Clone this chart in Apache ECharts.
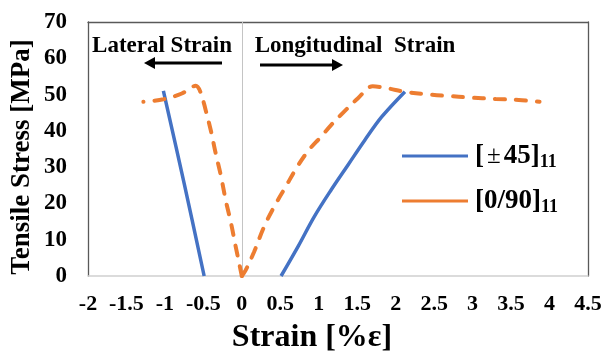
<!DOCTYPE html>
<html>
<head>
<meta charset="utf-8">
<title>Tensile stress vs strain</title>
<script src="https://cdn.jsdelivr.net/npm/echarts@6/dist/echarts.min.js"></script>
<style>
  html, body { margin: 0; padding: 0; background: #fff; }
  #chart { width: 606px; height: 356px; }
</style>
</head>
<body>
<div id="chart"></div>
<script>
// Data (strain in %, stress in MPa), in loading order
const blueLatStrain = [-0.49, -0.75, -1.02]
const blueLatStress = [0, 25.5, 51.0]
const blueLongStrain = [0.51, 0.73, 0.94, 1.16, 1.38, 1.60, 1.82, 2.12]
const blueLongStress = [0, 8.1, 16.3, 23.7, 30.6, 37.5, 43.9, 50.8]

const orangeLatStrain = [0, -0.08, -0.14, -0.21, -0.27, -0.34, -0.40, -0.47, -0.54, -0.60, -0.78, -1.02, -1.28]
const orangeLatStress = [0, 8.1, 14.5, 20.9, 27.4, 33.8, 39.8, 45.7, 50.8, 52.4, 50.3, 48.7, 48.0]
const orangeLongStrain = [0, 0.05, 0.16, 0.29, 0.42, 0.57, 0.72, 0.87, 1.03, 1.16, 1.33, 1.51, 1.70, 1.90, 2.11, 2.38, 2.69, 2.95, 3.30, 3.60, 3.87]
const orangeLongStress = [0, 1.6, 6.7, 13.6, 19.1, 24.6, 30.1, 34.7, 38.4, 41.6, 45.3, 49.0, 52.3, 51.7, 50.8, 50.1, 49.6, 49.2, 48.8, 48.5, 48.0]

const seriesNames = ['[±45]11', '[0/90]11']
const strainMin = -2
const strainMax = 4.5
const strainStep = 0.5
const stressMin = 0
const stressMax = 70
const stressStep = 10

const BLUE = '#4472C4'
const ORANGE = '#ED7D31'
const SERIF = '"Liberation Serif", "Times New Roman", serif'

/** zip two arrays into [x, y] pairs */
function pairs(xs, ys) {
  return xs.map((x, i) => [x, ys[i]])
}

function blueSeries(data) {
  return {
    name: seriesNames[0], type: 'line', data, showSymbol: false, symbol: 'none',
    smooth: 0.35, lineStyle: { color: BLUE, width: 3.5 }, itemStyle: { color: BLUE }, z: 3
  }
}

function orangeSeries(data) {
  return {
    name: seriesNames[1], type: 'line', data, showSymbol: false, symbol: 'none',
    smooth: 0.35, lineStyle: { color: ORANGE, width: 4, type: [10, 11], cap: 'round' },
    itemStyle: { color: ORANGE }, z: 4
  }
}

const chart = echarts.init(document.getElementById('chart'), null, { renderer: 'canvas' })

const axisLabelStyle = { color: '#000', fontFamily: SERIF, fontWeight: 'bold' }

chart.setOption({
  animation: false,
  grid: { left: 88, right: 18, top: 22, bottom: 80 },
  xAxis: [
    {
      type: 'value', min: strainMin, max: strainMax, interval: strainStep,
      axisLine: { onZero: false, lineStyle: { color: '#d0d0d0', width: 1.5 } },
      axisTick: { show: false }, splitLine: { show: false },
      axisLabel: { ...axisLabelStyle, fontSize: 22, margin: 17 }
    },
    {
      type: 'value', position: 'top', min: strainMin, max: strainMax,
      axisLine: { onZero: false, lineStyle: { color: '#595959', width: 1.3 } },
      axisTick: { show: false }, axisLabel: { show: false }, splitLine: { show: false }
    }
  ],
  yAxis: [
    {
      type: 'value', min: stressMin, max: stressMax, interval: stressStep,
      axisLine: { show: true, onZero: false, lineStyle: { color: '#595959', width: 1.3 } },
      axisTick: { show: false }, splitLine: { show: false },
      axisLabel: { ...axisLabelStyle, fontSize: 23, margin: 21 }
    },
    {
      type: 'value', position: 'right', min: stressMin, max: stressMax,
      axisLine: { show: true, onZero: false, lineStyle: { color: '#595959', width: 1.3 } },
      axisTick: { show: false }, axisLabel: { show: false }, splitLine: { show: false }
    }
  ],
  legend: {
    data: seriesNames,
    orient: 'vertical',
    left: 397,
    top: 136,
    icon: 'rect',
    itemWidth: 66,
    itemHeight: 3,
    itemGap: 15,
    selectedMode: false,
    formatter: name => name === seriesNames[0]
      ? '{b|[}{pm|±}{b|45]}{s|11}'
      : '{b|[0/90]}{s|11}',
    textStyle: {
      rich: {
        b: { fontFamily: SERIF, fontWeight: 'bold', fontSize: 27, color: '#000', lineHeight: 30 },
        pm: { fontFamily: SERIF, fontWeight: 'normal', fontSize: 25, color: '#000', lineHeight: 30, padding: [0, 3, 0, 3] },
        s: { fontFamily: SERIF, fontWeight: 'bold', fontSize: 18, color: '#000', lineHeight: 18, padding: [12, 0, 0, 0] }
      },
      padding: [0, 0, 0, 2]
    }
  },
  series: [
    {
      ...blueSeries(pairs(blueLatStrain, blueLatStress)),
      markLine: {
        silent: true, symbol: ['none', 'none'], label: { show: false },
        lineStyle: { color: '#c4c4c4', width: 1, type: 'solid' },
        data: [{ xAxis: 0 }], z: 1
      }
    },
    blueSeries(pairs(blueLongStrain, blueLongStress)),
    orangeSeries(pairs(orangeLatStrain, orangeLatStress)),
    orangeSeries(pairs(orangeLongStrain, orangeLongStress))
  ],
  graphic: [
    // axis titles
    {
      type: 'text', x: 312, y: 338,
      style: { text: 'Strain [%ε]', font: 'bold 32px ' + SERIF, fill: '#000', align: 'center', verticalAlign: 'middle' }
    },
    {
      type: 'text', x: 22, y: 157, rotation: Math.PI / 2,
      style: { text: 'Tensile Stress [MPa]', font: 'bold 27px ' + SERIF, fill: '#000', align: 'center', verticalAlign: 'middle' }
    },
    // direction annotations
    {
      type: 'text', x: 162, y: 46,
      style: { text: 'Lateral Strain', font: 'bold 23px ' + SERIF, fill: '#000', align: 'center', verticalAlign: 'middle' }
    },
    {
      type: 'text', x: 355, y: 46,
      style: { text: 'Longitudinal  Strain', font: 'bold 23px ' + SERIF, fill: '#000', align: 'center', verticalAlign: 'middle' }
    },
    { type: 'line', shape: { x1: 222, y1: 63, x2: 152, y2: 63 }, style: { stroke: '#000', lineWidth: 3 } },
    { type: 'polygon', shape: { points: [[144, 63], [155, 57], [155, 69]] }, style: { fill: '#000' } },
    { type: 'line', shape: { x1: 260, y1: 65, x2: 334, y2: 65 }, style: { stroke: '#000', lineWidth: 3 } },
    { type: 'polygon', shape: { points: [[343, 65], [332, 59], [332, 71]] }, style: { fill: '#000' } }
  ]
})
</script>
</body>
</html>
